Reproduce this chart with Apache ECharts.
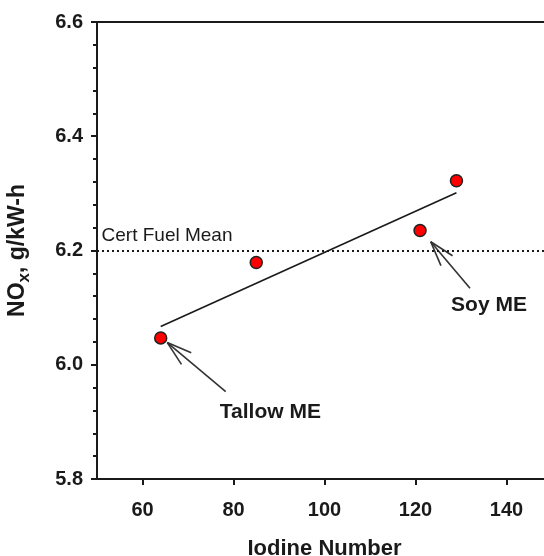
<!DOCTYPE html>
<html><head><meta charset="utf-8">
<script src="https://cdn.jsdelivr.net/npm/echarts@6/dist/echarts.min.js"></script>
<style>html,body{margin:0;padding:0;overflow:hidden;background:#fff}#c{width:560px;height:556px}</style>
</head><body><div id="c"></div>
<script>
// Data
const iodine = [64, 85, 121, 129];
const nox = [6.047, 6.179, 6.235, 6.322];
const fitX = [64, 129];
const fitY = [6.067, 6.301];
const certMean = 6.2;
const xTicks = [60, 80, 100, 120, 140];
const labelText = ['Cert Fuel Mean', 'Tallow ME', 'Soy ME'];
const labelX = [51.0, 88.1, 136.15];
const labelY = [6.2266, 5.9168, 6.1047];
const arrowFromX = [78.29, 131.98];
const arrowFromY = [5.953, 6.134];
const arrowToX = [65.45, 123.34];
const arrowToY = [6.0388, 6.2154];

const FONT = "'Liberation Sans', Arial, sans-serif";
const INK = '#1a1a1a';

const chart = echarts.init(document.getElementById('c'));
chart.setOption({
  animation: false,
  backgroundColor: '#fff',
  grid: { left: 97, right: 8, top: 22, bottom: 77, show: true, borderColor: INK, borderWidth: 2, backgroundColor: 'transparent', containLabel: false, outerBoundsMode: 'none' },
  xAxis: {
    type: 'value', min: 50, max: 150,
    name: 'Iodine Number', nameLocation: 'middle', nameGap: 59,
    nameTextStyle: { fontFamily: FONT, fontSize: 22, fontWeight: 'bold', color: INK },
    axisLine: { show: true, onZero: false, lineStyle: { color: INK, width: 2 } },
    axisTick: { show: true, inside: false, length: 6, lineStyle: { color: INK, width: 2 }, customValues: xTicks },
    axisLabel: { fontFamily: FONT, fontSize: 20, fontWeight: 'bold', color: INK, margin: 21, customValues: xTicks },
    splitLine: { show: false }
  },
  yAxis: {
    type: 'value', min: 5.8, max: 6.6, interval: 0.2,
    name: '{m|NO}{s|x}{m|, g/kW-h}', nameLocation: 'middle', nameGap: 64, nameRotate: 90,
    nameTextStyle: {
      fontFamily: FONT, color: INK,
      rich: {
        m: { fontFamily: FONT, fontSize: 23, fontWeight: 'bold', color: INK, lineHeight: 30, verticalAlign: 'middle' },
        s: { fontFamily: FONT, fontSize: 17, fontWeight: 'bold', color: INK, lineHeight: 17, verticalAlign: 'bottom' }
      }
    },
    axisLine: { show: true, onZero: false, lineStyle: { color: INK, width: 2 } },
    axisTick: { show: true, inside: false, length: 6, lineStyle: { color: INK, width: 2 } },
    minorTick: { show: true, splitNumber: 5, length: 4, lineStyle: { color: INK, width: 2 } },
    axisLabel: { fontFamily: FONT, fontSize: 20, fontWeight: 'bold', color: INK, margin: 14, formatter: v => v.toFixed(1) },
    splitLine: { show: false }
  },
  series: [
    {
      type: 'line', data: fitX.map((x, i) => [x, fitY[i]]), symbol: 'none',
      lineStyle: { color: INK, width: 1.6 }, z: 2,
      markLine: {
        silent: true, symbol: ['none', 'none'], label: { show: false },
        lineStyle: { color: INK, type: [2, 3], width: 2 },
        data: [{ yAxis: certMean }]
      }
    },
    {
      type: 'custom', z: 3,
      data: arrowFromX.map((x, i) => [x, arrowFromY[i], arrowToX[i], arrowToY[i]]),
      renderItem: function (params, api) {
        const a = api.coord([api.value(0), api.value(1)]);
        const b = api.coord([api.value(2), api.value(3)]);
        const ang = Math.atan2(a[1] - b[1], a[0] - b[0]);
        const L = 26, d = 17 * Math.PI / 180;
        const p1 = [b[0] + L * Math.cos(ang + d), b[1] + L * Math.sin(ang + d)];
        const p2 = [b[0] + L * Math.cos(ang - d), b[1] + L * Math.sin(ang - d)];
        const st = { stroke: '#333', lineWidth: 1.6, fill: null };
        return { type: 'group', children: [
          { type: 'line', shape: { x1: a[0], y1: a[1], x2: b[0], y2: b[1] }, style: st },
          { type: 'line', shape: { x1: b[0], y1: b[1], x2: p1[0], y2: p1[1] }, style: st },
          { type: 'line', shape: { x1: b[0], y1: b[1], x2: p2[0], y2: p2[1] }, style: st }
        ] };
      }
    },
    {
      type: 'custom', z: 4,
      data: labelX.map((x, i) => [x, labelY[i]]),
      renderItem: function (params, api) {
        const p = api.coord([api.value(0), api.value(1)]);
        const i = params.dataIndex;
        return {
          type: 'text', x: p[0], y: p[1],
          style: {
            text: labelText[i], fontFamily: FONT,
            fontSize: i === 0 ? 19 : 21, fontWeight: i === 0 ? 'normal' : 'bold',
            fill: INK, align: i === 0 ? 'left' : 'center', verticalAlign: 'middle'
          }
        };
      }
    },
    {
      type: 'scatter', data: iodine.map((x, i) => [x, nox[i]]), symbol: 'circle', symbolSize: 12,
      itemStyle: { color: '#ff0000', borderColor: '#222', borderWidth: 1.5, opacity: 1 }, z: 5
    }
  ]
});
</script></body></html>
